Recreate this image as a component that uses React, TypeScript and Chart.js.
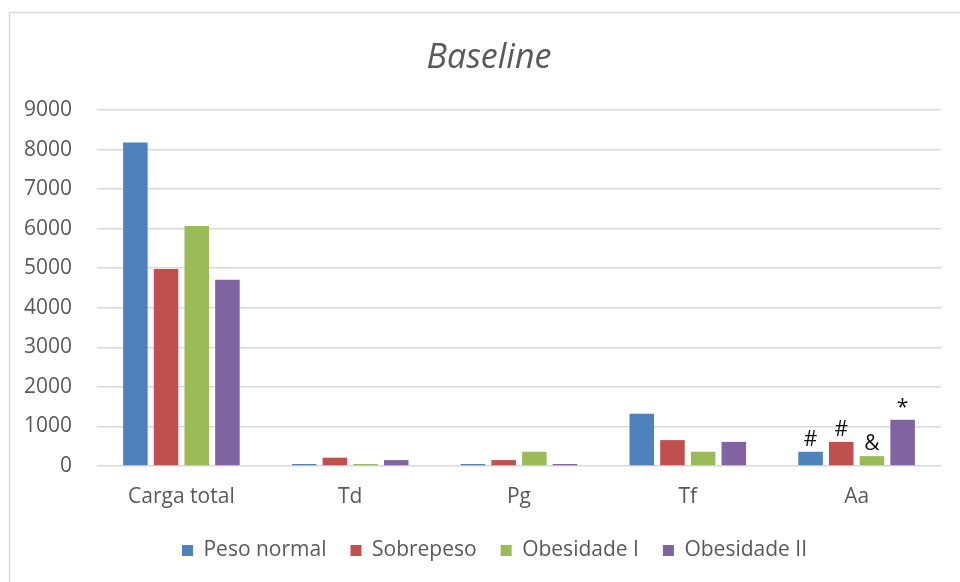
import React, { useEffect, useRef } from "react";
import { Chart, registerables } from "chart.js";

Chart.register(...registerables);

const categories = ["Carga total", "Td", "Pg", "Tf", "Aa"];
const seriesNames = ["Peso normal", "Sobrepeso", "Obesidade I", "Obesidade II"];
const pesoNormal = [8180, 50, 50, 1320, 360];
const sobrepeso = [4980, 210, 150, 655, 610];
const obesidadeI = [6070, 50, 360, 360, 250];
const obesidadeII = [4710, 150, 50, 610, 1170];
const seriesColors = ["#4F81BD", "#C0504D", "#9BBB59", "#8064A2"];
// significance marks drawn over the "Aa" bars, one per series
const aaMarks = ["#", "#", "&", "*"];
const markCategory = "Aa";
const yTicks = [0, 1000, 2000, 3000, 4000, 5000, 6000, 7000, 8000, 9000];
const chartTitle = "Baseline";

const FONT = "'Open Sans', 'DejaVu Sans', sans-serif";
const TEXT = "#595959";
const GRID = "#D9D9D9";

const framePlugin = {
  id: "frame",
  afterLayout(chart: any) {
    // centre the legend under the framed area rather than the canvas
    if (chart.legend) {
      chart.legend.left += 13;
      chart.legend.right += 13;
    }
  },
  beforeDraw(chart: any) {
    const { ctx } = chart;
    ctx.save();
    ctx.fillStyle = "#ffffff";
    ctx.fillRect(0, 0, chart.width, chart.height);
    ctx.strokeStyle = GRID;
    ctx.lineWidth = 1.5;
    ctx.strokeRect(9.5, 12.5, chart.width + 20, chart.height + 20);
    // chart title, centred over the framed area
    ctx.font = `italic 34px ${FONT}`;
    ctx.fillStyle = TEXT;
    ctx.textAlign = "center";
    ctx.textBaseline = "middle";
    ctx.fillText(chartTitle, 489, 58);
    ctx.restore();
  },
};

const marksPlugin = {
  id: "marks",
  afterDatasetsDraw(chart: any) {
    const { ctx } = chart;
    const idx = categories.indexOf(markCategory);
    ctx.save();
    ctx.font = `21px ${FONT}`;
    ctx.fillStyle = "#111111";
    ctx.textAlign = "center";
    ctx.textBaseline = "alphabetic";
    chart.data.datasets.forEach((_: any, i: number) => {
      const bar = chart.getDatasetMeta(i).data[idx];
      if (!bar || !aaMarks[i]) return;
      ctx.fillText(aaMarks[i], bar.x, bar.y - 6);
    });
    ctx.restore();
  },
};

export default function App() {
  const canvasRef = useRef<HTMLCanvasElement | null>(null);

  useEffect(() => {
    document.body.style.margin = "0";
    const canvas = canvasRef.current;
    if (!canvas) return;
    const values = [pesoNormal, sobrepeso, obesidadeI, obesidadeII];
    const chart = new Chart(canvas, {
      type: "bar",
      data: {
        labels: categories,
        datasets: seriesNames.map((name, i) => ({
          label: name,
          data: values[i],
          backgroundColor: seriesColors[i],
          borderWidth: 0,
          categoryPercentage: 0.727,
          barPercentage: 0.8,
        })),
      },
      options: {
        animation: false,
        responsive: false,
        maintainAspectRatio: false,
        devicePixelRatio: 1,
        layout: { padding: { left: 22, right: 19, top: 110, bottom: 11 } },
        plugins: {
          title: { display: false },
          legend: {
            position: "bottom",
            labels: {
              color: TEXT,
              font: { family: FONT, size: 21 },
              boxWidth: 11,
              boxHeight: 11,
              padding: 24,
            },
          },
          tooltip: { enabled: false },
        },
        scales: {
          x: {
            grid: { display: false, drawTicks: false },
            border: { display: false },
            ticks: {
              color: TEXT,
              font: { family: FONT, size: 21 },
              padding: 18,
            },
            afterFit(scale: any) {
              scale.height = 50;
            },
          },
          y: {
            min: 0,
            max: 9000,
            afterBuildTicks(scale: any) {
              scale.ticks = yTicks.map((v) => ({ value: v }));
            },
            grid: { color: GRID, lineWidth: 1.5, drawTicks: false },
            border: { display: false },
            ticks: {
              color: TEXT,
              font: { family: FONT, size: 21 },
              padding: 25,
              callback: (v: any) => String(v),
            },
            afterFit(scale: any) {
              scale.width = 75;
            },
          },
        },
      },
      plugins: [framePlugin, marksPlugin],
    });
    return () => chart.destroy();
  }, []);

  return (
    <div style={{ width: 960, height: 582 }}>
      <canvas ref={canvasRef} width={960} height={582} style={{ display: "block" }} />
    </div>
  );
}
